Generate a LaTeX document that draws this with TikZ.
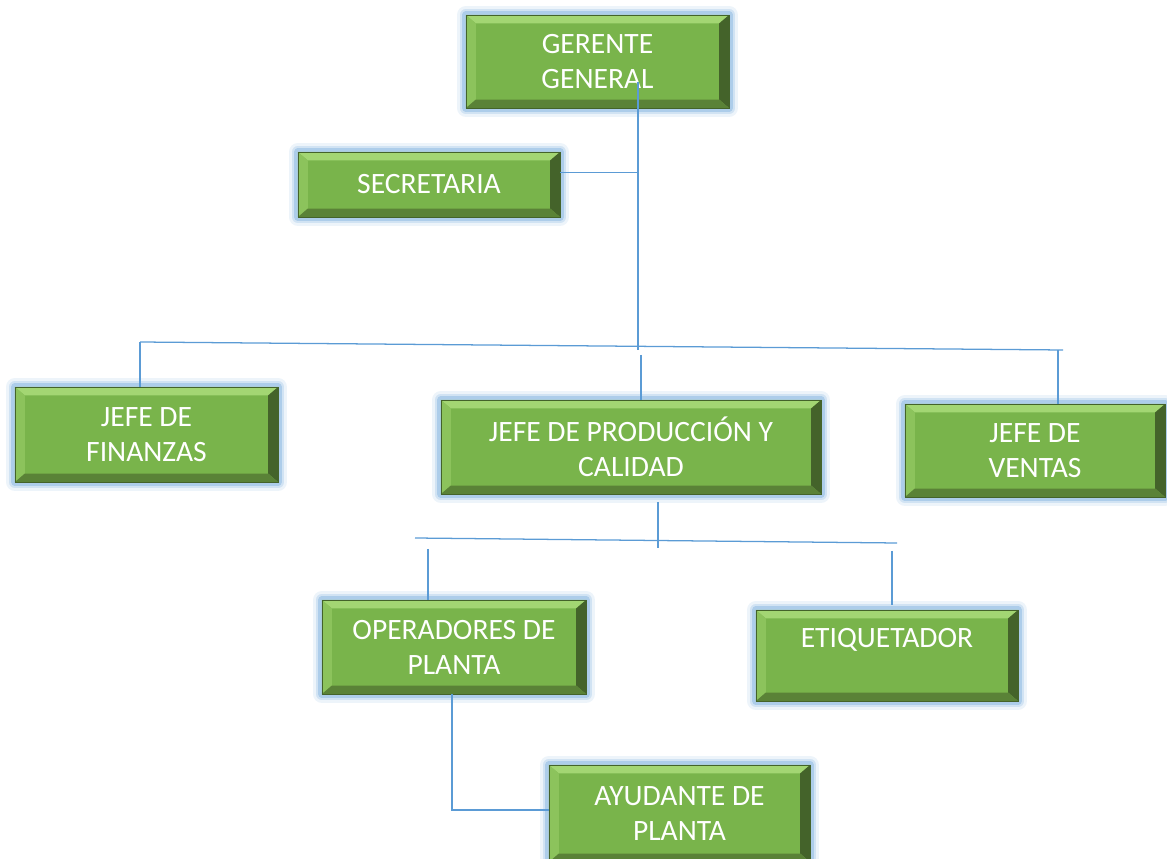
\documentclass[tikz,border=0pt]{standalone}
\usepackage{fontspec}
\setmainfont{Carlito}
\definecolor{verde}{HTML}{79B44B}
\definecolor{verdeclaro}{HTML}{A3D673}
\definecolor{verdemedio}{HTML}{8CC35C}
\definecolor{verdeoscuro}{HTML}{5A8237}
\definecolor{verdesombra}{HTML}{44632A}
\definecolor{brillo}{HTML}{9DC3E6}
\definecolor{linea}{HTML}{5B9BD5}
\begin{document}
\begin{tikzpicture}[x=0.025cm,y=-0.025cm,
    puesto/.style={rectangle, fill=verde, draw=verdesombra, line width=0.6pt, text=white,
      align=center, inner sep=0pt, font=\fontsize{21}{25}\selectfont,
      preaction={draw=brillo, line width=13pt, line join=round, opacity=0.18},
      preaction={draw=brillo, line width=9pt, line join=round, opacity=0.35},
      preaction={draw=brillo, line width=5pt, line join=round, opacity=0.7},
      path picture={
        \coordinate (nw) at (path picture bounding box.north west);
        \coordinate (ne) at (path picture bounding box.north east);
        \coordinate (sw) at (path picture bounding box.south west);
        \coordinate (se) at (path picture bounding box.south east);
        \fill[verdeclaro] (nw) -- (ne) -- ([shift={(-7pt,-6pt)}]ne) -- ([shift={(7pt,-6pt)}]nw) -- cycle; %arriba
        \fill[verdemedio] (nw) -- ([shift={(7pt,-6pt)}]nw) -- ([shift={(7pt,6pt)}]sw) -- (sw) -- cycle; %izq
        \fill[verdesombra] (ne) -- (se) -- ([shift={(-7pt,6pt)}]se) -- ([shift={(-7pt,-6pt)}]ne) -- cycle; %der
        \fill[verdeoscuro] (sw) -- (se) -- ([shift={(-7pt,6pt)}]se) -- ([shift={(7pt,6pt)}]sw) -- cycle; %abajo
      }},
    enlace/.style={draw=linea, line width=0.9pt}]
  \useasboundingbox (0,0) rectangle (1167,859);
  % puestos
  \node[puesto, minimum width=6.575cm, minimum height=2.325cm] (gerente) at (597.5,61.5) {GERENTE\\GENERAL};
  \node[puesto, minimum width=6.55cm, minimum height=1.625cm] (secretaria) at (429,184.5) {SECRETARIA};
  \node[puesto, minimum width=6.575cm, minimum height=2.375cm] (finanzas) at (146.5,434.5) {JEFE DE\\FINANZAS};
  \node[puesto, minimum width=9.5cm, minimum height=2.35cm] (produccion) at (631,447) {JEFE DE PRODUCCIÓN Y\\CALIDAD};
  \node[puesto, minimum width=6.5cm, minimum height=2.325cm] (ventas) at (1035,450.5) {JEFE DE\\VENTAS};
  \node[puesto, minimum width=6.6cm, minimum height=2.35cm] (operadores) at (454,647) {OPERADORES DE\\PLANTA};
  \node[puesto, minimum width=6.55cm, minimum height=2.275cm] (etiquetador) at (887,655.5) {ETIQUETADOR\\\mbox{}};
  \node[puesto, minimum width=6.525cm, minimum height=2.425cm] (ayudante) at (679.5,813.5) {AYUDANTE DE\\PLANTA};
  % lineas
  \coordinate (tronco) at (638,82);
  \coordinate (cruce) at (638,350);
  \coordinate (busizq) at (140,342); \coordinate (busder) at (1063,350);
  \coordinate (bajaprod) at (641,355); \coordinate (bajaven) at (1058,350);
  \coordinate (subeprod) at (658,502); \coordinate (cruce2) at (658,548);
  \coordinate (bus2izq) at (415,538); \coordinate (bus2der) at (897,543);
  \coordinate (bajaop) at (428,549); \coordinate (bajaet) at (892,551);
  \coordinate (codo) at (452,810);
  \draw[enlace] (tronco) -- (cruce); %tronco
  \draw[enlace] ([yshift=0.3cm]secretaria.east) -- ([yshift=0.3cm]secretaria.east -| tronco);
  \draw[enlace] (busizq) -- (busder);
  \draw[enlace] (busizq) -- (busizq |- finanzas.north);
  \draw[enlace] (bajaprod) -- (bajaprod |- produccion.north);
  \draw[enlace] (bajaven) -- (bajaven |- ventas.north);
  \draw[enlace] (subeprod) -- (cruce2);
  \draw[enlace] (bus2izq) -- (bus2der);
  \draw[enlace] (bajaop) -- (bajaop |- operadores.north);
  \draw[enlace] (bajaet) -- ([yshift=0.125cm]bajaet |- etiquetador.north);
  \draw[enlace] (codo |- operadores.south) -- (codo) -- (codo -| ayudante.west);
\end{tikzpicture}
\end{document}
